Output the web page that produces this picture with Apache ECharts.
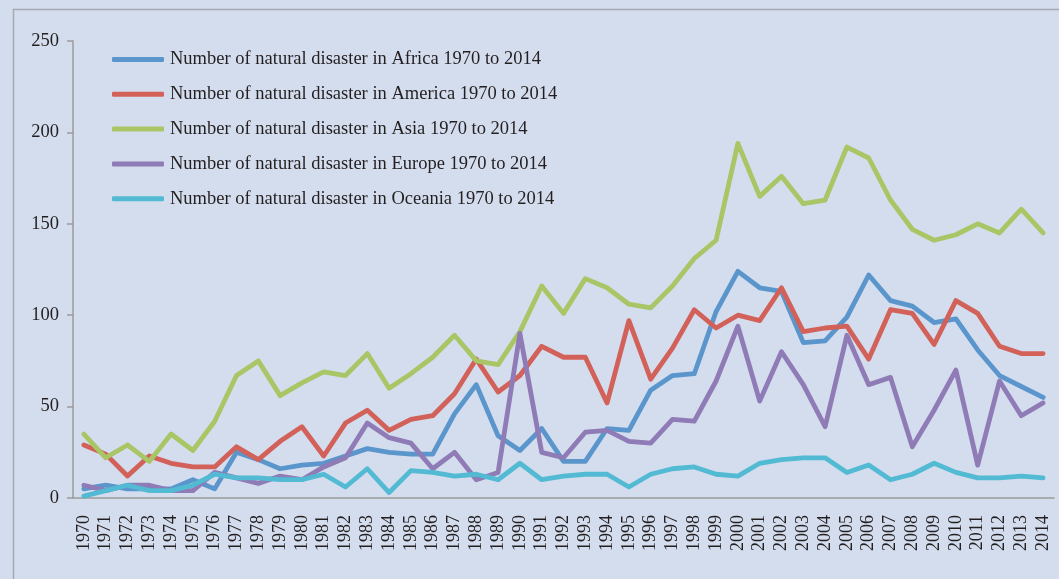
<!DOCTYPE html>
<html>
<head>
<meta charset="utf-8">
<script src="https://cdn.jsdelivr.net/npm/echarts@6/dist/echarts.min.js"></script>
<style>
  html, body { margin: 0; padding: 0; background: #d4ddee; }
  #chart { width: 1059px; height: 579px; }
</style>
</head>
<body>
<div id="chart"></div>
<script>
// years on the x axis
const years = [];
for (let y = 1970; y <= 2014; y++) years.push(String(y));

// values
const africa = [5, 7, 5, 5, 5, 10, 5, 25, 21, 16, 18, 19, 23, 27, 25, 24,
  24, 46, 62, 34, 26, 38, 20, 20, 38, 37, 59, 67, 68, 102,
  124, 115, 113, 85, 86, 99, 122, 108, 105, 96, 98, 81, 67, 61, 55];
const america = [29, 24, 12, 23, 19, 17, 17, 28, 21, 31, 39, 23, 41, 48, 37, 43,
  45, 57, 76, 58, 67, 83, 77, 77, 52, 97, 65, 82, 103, 93,
  100, 97, 115, 91, 93, 94, 76, 103, 101, 84, 108, 101, 83, 79, 79];
const asia = [35, 22, 29, 20, 35, 26, 42, 67, 75, 56, 63, 69, 67, 79, 60, 68,
  77, 89, 75, 73, 91, 116, 101, 120, 115, 106, 104, 116, 131, 141,
  194, 165, 176, 161, 163, 192, 186, 163, 147, 141, 144, 150, 145, 158, 145];
const europe = [7, 4, 7, 7, 4, 4, 14, 11, 8, 12, 10, 17, 22, 41, 33, 30,
  16, 25, 10, 14, 90, 25, 22, 36, 37, 31, 30, 43, 42, 64,
  94, 53, 80, 62, 39, 89, 62, 66, 28, 48, 70, 18, 64, 45, 52];
const oceania = [1, 4, 7, 4, 4, 7, 13, 11, 11, 10, 10, 13, 6, 16, 3, 15,
  14, 12, 13, 10, 19, 10, 12, 13, 13, 6, 13, 16, 17, 13,
  12, 19, 21, 22, 22, 14, 18, 10, 13, 19, 14, 11, 11, 12, 11];

const seriesNames = [
  'Number of natural disaster in Africa 1970 to 2014',
  'Number of natural disaster in America 1970 to 2014',
  'Number of natural disaster in Asia 1970 to 2014',
  'Number of natural disaster in Europe 1970 to 2014',
  'Number of natural disaster in Oceania 1970 to 2014'
];
const seriesData = [africa, america, asia, europe, oceania];
const colors = ['#5a95cc', '#d2615a', '#a8c665', '#8f7bb5', '#52bad2'];

const fontFamily = '"Liberation Serif", "DejaVu Serif", serif';
const axisGray = '#9a9a9a';

const chart = echarts.init(document.getElementById('chart'));

const option = {
  backgroundColor: '#d4ddee',
  animation: false,
  color: colors,
  textStyle: { fontFamily: fontFamily },
  graphic: [{
    type: 'rect',
    left: 11, top: 7,
    shape: { width: 1100, height: 620 },
    style: { fill: 'none', stroke: '#a5a9b0', lineWidth: 1.5 },
    silent: true
  }],
  legend: {
    orient: 'vertical',
    left: 107,
    top: 45,
    itemWidth: 52,
    itemHeight: 5,
    itemGap: 15.8,
    icon: 'roundRect',
    textStyle: { fontFamily: fontFamily, fontSize: 18.5, color: '#231f20', padding: [0, 0, 0, 1] },
    data: seriesNames
  },
  grid: {
    left: 73,
    right: 5,
    top: 41,
    bottom: 81
  },
  xAxis: {
    type: 'category',
    data: years,
    boundaryGap: true,
    axisLine: { lineStyle: { color: axisGray, width: 1.5 } },
    axisTick: { alignWithLabel: true, length: 6, lineStyle: { color: axisGray, width: 1.5 } },
    axisLabel: {
      interval: 0,
      rotate: 90,
      margin: 17,
      fontFamily: fontFamily,
      fontSize: 18,
      color: '#231f20'
    }
  },
  yAxis: {
    type: 'value',
    min: 0,
    max: 250,
    interval: 50,
    axisLine: { show: true, lineStyle: { color: axisGray, width: 1.5 } },
    axisTick: { show: true, length: 6, lineStyle: { color: axisGray, width: 1.5 } },
    splitLine: { show: false },
    axisLabel: {
      margin: 14,
      fontFamily: fontFamily,
      fontSize: 18.5,
      color: '#231f20'
    }
  },
  series: seriesNames.map((name, i) => ({
    name: name,
    type: 'line',
    data: seriesData[i],
    showSymbol: false,
    symbol: 'none',
    lineStyle: { width: 4.8, cap: 'round', join: 'round' }
  }))
};

chart.setOption(option);
</script>
</body>
</html>
